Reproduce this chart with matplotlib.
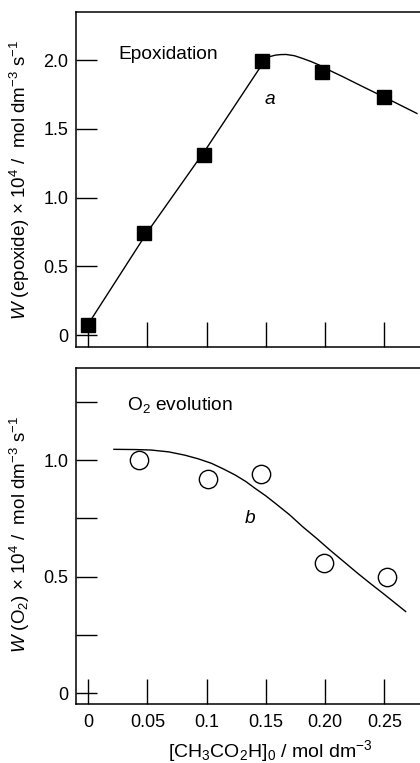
import matplotlib
matplotlib.use("Agg")
import matplotlib.pyplot as plt

plt.rcParams['font.family'] = ['Liberation Sans', 'DejaVu Sans']
plt.rcParams['mathtext.fontset'] = 'custom'
plt.rcParams['mathtext.rm'] = 'Liberation Sans'
plt.rcParams['mathtext.it'] = 'Liberation Sans:italic'

acid_epox = [0.0, 0.047, 0.098, 0.147, 0.197, 0.25]
w_epox = [0.07, 0.74, 1.31, 1.99, 1.91, 1.73]
acid_o2 = [0.043, 0.101, 0.146, 0.199, 0.252]
w_o2 = [1.00, 0.92, 0.94, 0.56, 0.50]

# Curvas ajustadas (a, b)
curve_a_x = [0.003, 0.05, 0.10, 0.150, 0.1535, 0.158, 0.1625, 0.167, 0.174, 0.181,
             0.188, 0.195, 0.205, 0.215, 0.232, 0.255, 0.2775]
curve_a_y = [0.12, 0.75, 1.36, 2.01, 2.026, 2.036, 2.040, 2.041, 2.032, 2.012,
             1.99, 1.964, 1.92, 1.879, 1.806, 1.709, 1.612]
curve_b_x = [0.0217, 0.04, 0.053, 0.068, 0.0815, 0.093, 0.104, 0.114, 0.124, 0.133,
             0.141, 0.150, 0.158, 0.170, 0.181, 0.193, 0.204, 0.216, 0.227, 0.238,
             0.2496, 0.268]
curve_b_y = [1.046, 1.045, 1.043, 1.035, 1.021, 1.005, 0.986, 0.962, 0.936, 0.908,
             0.878, 0.846, 0.814, 0.765, 0.714, 0.663, 0.614, 0.563, 0.516, 0.471,
             0.425, 0.350]

x_ticks = [0, 0.05, 0.1, 0.15, 0.20, 0.25]
x_ticklabels = ['0', '0.05', '0.1', '0.15', '0.20', '0.25']
top_yticks = [0, 0.5, 1.0, 1.5, 2.0]
top_yticklabels = ['0', '0.5', '1.0', '1.5', '2.0']
bot_yticks = [0, 0.25, 0.5, 0.75, 1.0, 1.25]
bot_yticklabels = ['0', '', '0.5', '', '1.0', '']

fig = plt.figure(figsize=(4.2, 7.63), dpi=100)
ax1 = fig.add_axes([0.181, 0.5452, 0.83, 0.4391])
ax2 = fig.add_axes([0.181, 0.0773, 0.83, 0.4404])

for ax in (ax1, ax2):
    ax.set_xlim(-0.0103, 0.284)
    ax.set_xticks(x_ticks)
    ax.spines['right'].set_visible(False)
    for s in ax.spines.values():
        s.set_linewidth(1.1)
    ax.tick_params(axis='both', direction='in', width=1.0, labelsize=13)
    ax.tick_params(axis='x', length=18, pad=7)
    ax.tick_params(axis='y', length=15, pad=5.5)

# Panel superior: epoxidacion
ax1.set_ylim(-0.087, 2.35)
ax1.set_yticks(top_yticks)
ax1.set_yticklabels(top_yticklabels)
ax1.set_xticklabels([])
ax1.plot(curve_a_x, curve_a_y, color='black', lw=1.0)
ax1.plot(acid_epox, w_epox, linestyle='none', marker='s', markersize=9.6,
         color='black', zorder=3, clip_on=False)
ax1.text(0.0256, 2.04, 'Epoxidation', fontsize=13.8, va='center', ha='left')
ax1.text(0.153, 1.71, 'a', fontsize=13.8, style='italic', va='center', ha='center')
ax1.set_ylabel(r'$W$ (epoxide) $\times$ 10$^{4}$ /  mol dm$^{-3}$ s$^{-1}$', fontsize=13.5)
ax1.yaxis.set_label_coords(-0.125, 0.5)

# Panel inferior: evolucion de O2
ax2.set_ylim(-0.047, 1.395)
ax2.set_yticks(bot_yticks)
ax2.set_yticklabels(bot_yticklabels)
ax2.set_xticklabels(x_ticklabels)
ax2.plot(curve_b_x, curve_b_y, color='black', lw=1.0)
ax2.plot(acid_o2, w_o2, linestyle='none', marker='o', markersize=13.2,
         markerfacecolor='white', markeredgecolor='black', markeredgewidth=1.0, zorder=3)
ax2.text(0.033, 1.236, r'O$_2$ evolution', fontsize=13.8, va='center', ha='left')
ax2.text(0.137, 0.75, 'b', fontsize=13.8, style='italic', va='center', ha='center')
ax2.set_ylabel(r'$W$ (O$_2$) $\times$ 10$^{4}$ /  mol dm$^{-3}$ s$^{-1}$', fontsize=13.5)
ax2.yaxis.set_label_coords(-0.125, 0.506)
ax2.set_xlabel(r'[CH$_3$CO$_2$H]$_0$ / mol dm$^{-3}$', fontsize=14)
ax2.xaxis.set_label_coords(0.558, -0.10)

fig.savefig('out.png', dpi=100)
